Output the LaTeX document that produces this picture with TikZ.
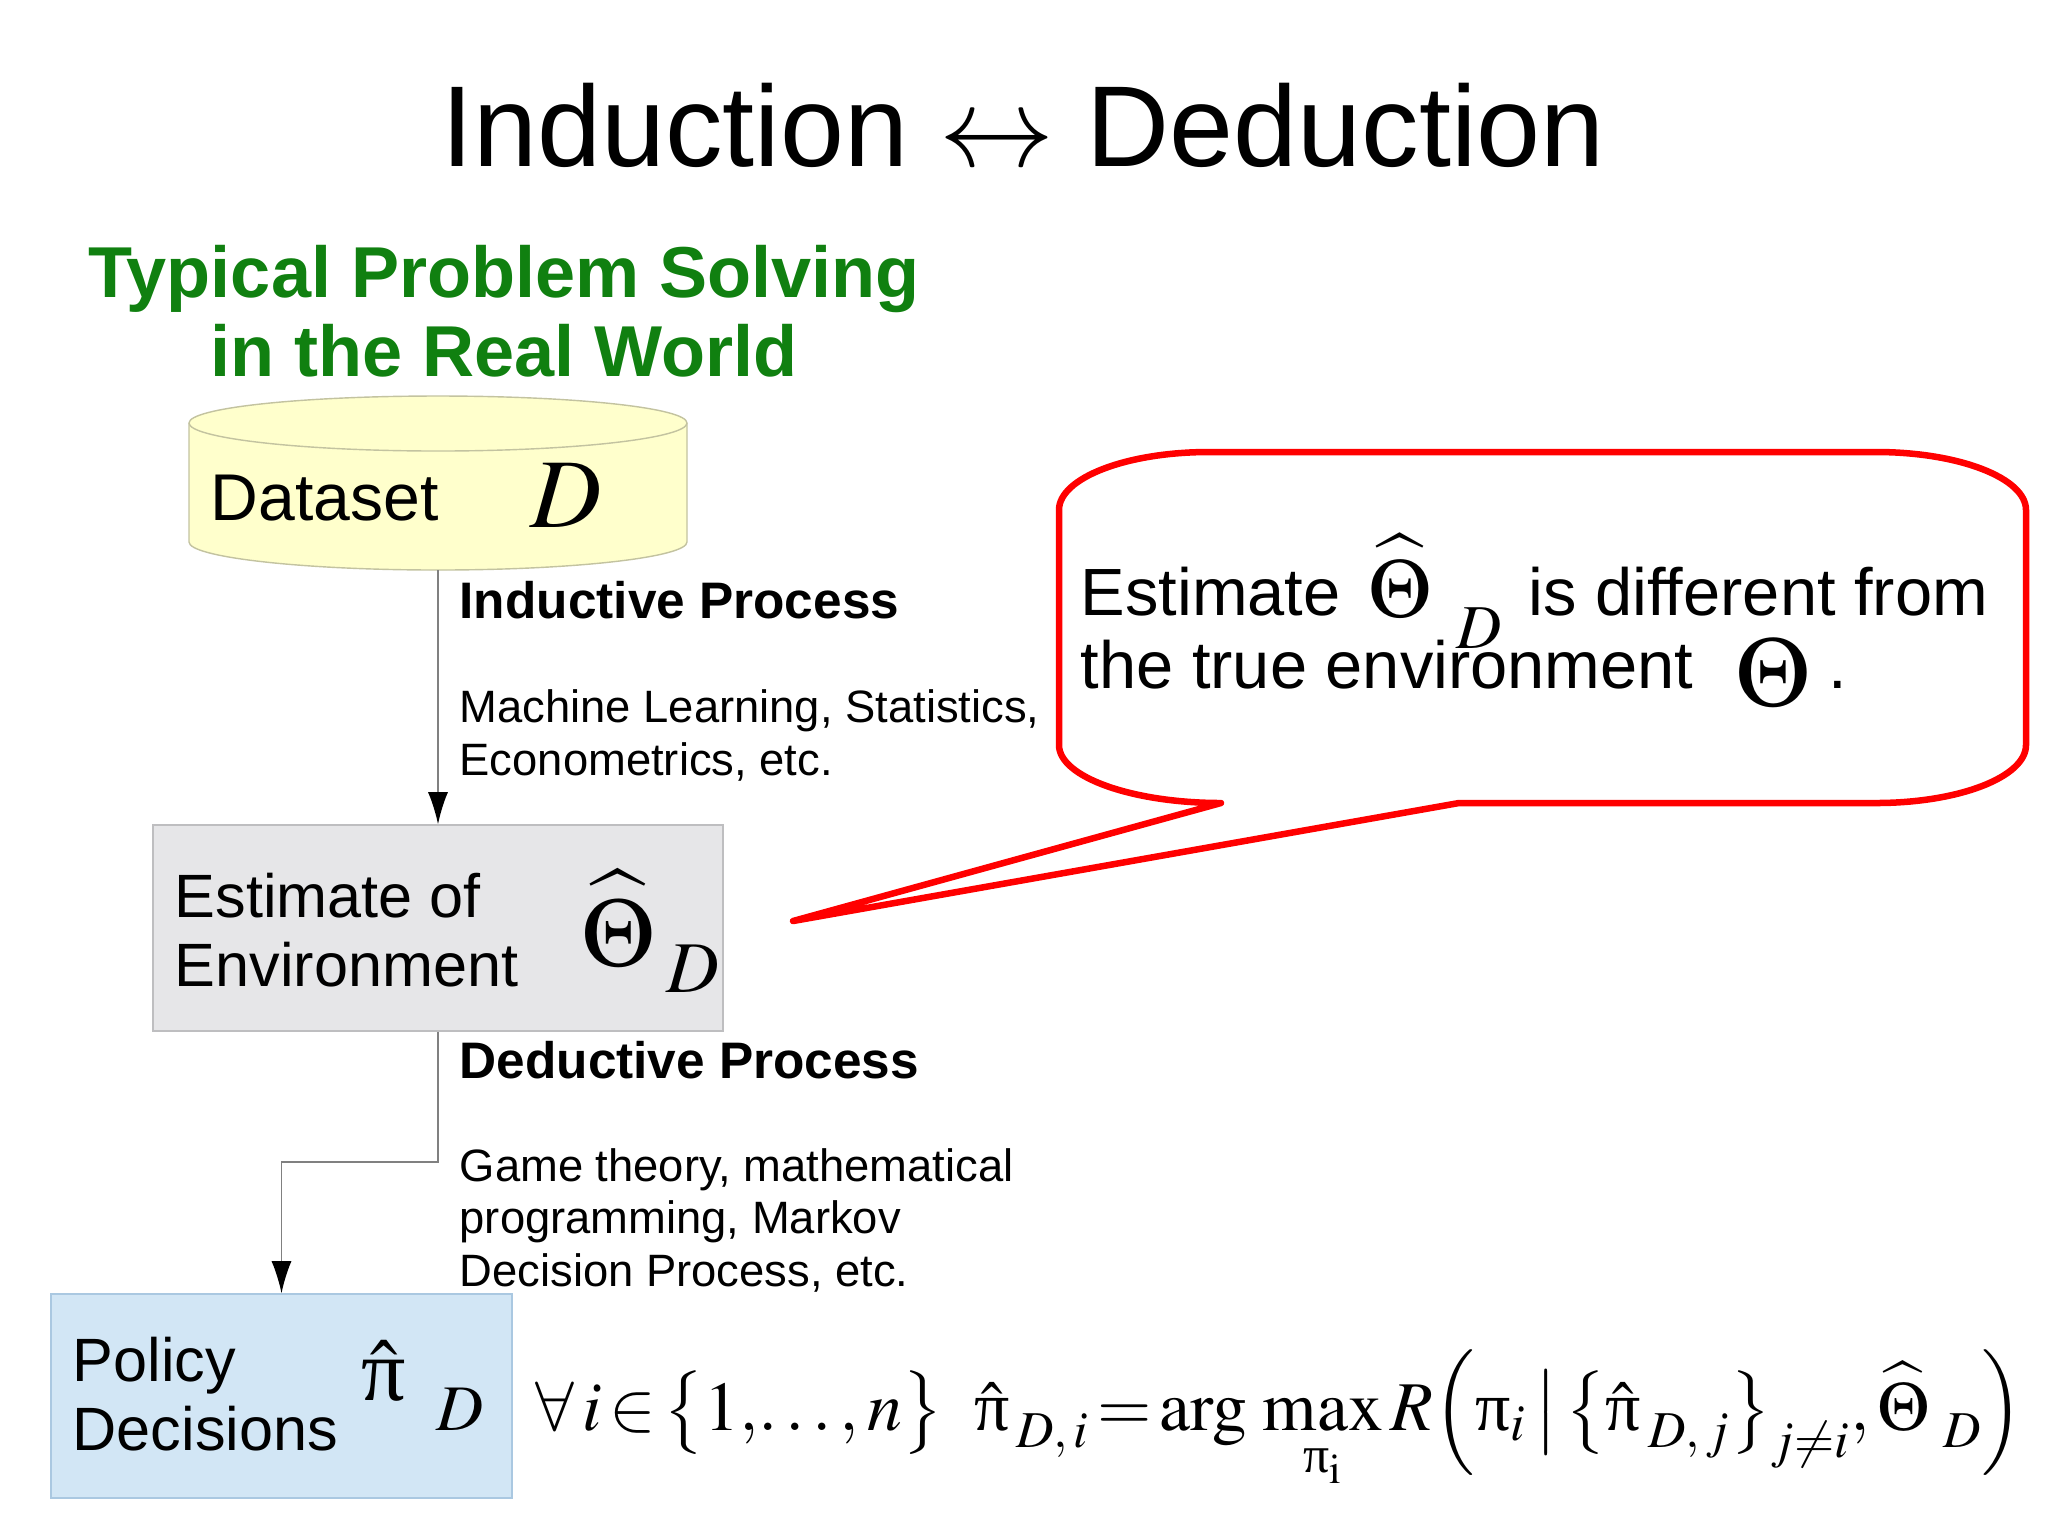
\documentclass[tikz,border=0pt]{standalone}
\usepackage{mathptmx}
\usepackage{amsmath}
\usepackage{graphicx}
\usepackage[no-math]{fontspec}
\setmainfont{Liberation Sans}
\newfontfamily\greekup{Liberation Serif}
\usetikzlibrary{arrows.meta}
\definecolor{titlegreen}{RGB}{16,128,16}
\definecolor{dbyellow}{RGB}{255,255,204}
\definecolor{dbedge}{RGB}{195,195,160}
\definecolor{estgray}{RGB}{230,230,232}
\definecolor{estedge}{RGB}{190,190,192}
\definecolor{polblue}{RGB}{210,230,245}
\definecolor{poledge}{RGB}{170,200,225}
\definecolor{calloutred}{RGB}{255,0,0}
\newcommand{\fsz}[2]{\fontsize{#1}{#2}\selectfont}
\newcommand{\upi}{\text{\greekup π}}
\newcommand{\lsub}[3]{_{\hspace{#1}\raisebox{-#2}{$\scriptstyle #3$}}}
\begin{document}
\begin{tikzpicture}[x=0.01cm,y=-0.01cm,
    conn/.style={draw=black!50,line width=0.45pt,-{Latex[length=0.32cm,width=0.2cm,color=black]}},
    heading/.style={anchor=base west,inner sep=0pt,font=\bfseries\fsz{14.6pt}{17pt}},
    note/.style={anchor=base west,inner sep=0pt,align=left,font=\fsz{12.9pt}{14.8pt}},
    boxtext/.style={anchor=base west,inner sep=0pt,align=left,font=\fsz{17.4pt}{19.5pt}},
    calltext/.style={anchor=base west,inner sep=0pt,font=\fsz{19pt}{21pt}},
    symb/.style={anchor=base west,inner sep=0pt}]
  \useasboundingbox (0,0) rectangle (2048,1535);
  % headings
  \node (title) at (1023,166) [anchor=base,font=\fsz{32.7pt}{38pt}] {Induction $\leftrightarrow$ Deduction};
  \node (sub) at (504,376) [anchor=base,inner sep=0pt,align=center,text=titlegreen,
    font=\bfseries\fsz{20.5pt}{22.2pt}] {Typical Problem Solving\\in the Real World};
  % dataset cylinder
  \draw[dbedge,fill=dbyellow,line width=0.4pt]
    (189,423) -- (189,542) .. controls (189,557) and (300,570) .. (438,570)
    .. controls (576,570) and (687,557) .. (687,542) -- (687,423)
    .. controls (687,408) and (576,396) .. (438,396)
    .. controls (300,396) and (189,408) .. (189,423) -- cycle;
  \draw[dbedge,line width=0.4pt]
    (189,423) .. controls (189,438) and (300,451) .. (438,451)
    .. controls (576,451) and (687,438) .. (687,423);
  \coordinate (data) at (438,570);
  % boxes
  \node (est) at (438,928) [rectangle,minimum width=5.70cm,minimum height=2.06cm,
    fill=estgray,draw=estedge] {};
  \node (pol) at (281.5,1396) [rectangle,minimum width=4.61cm,minimum height=2.04cm,
    fill=polblue,draw=poledge] {};
  \node (dataname) at (210,520) [boxtext,font=\fsz{18.8pt}{21pt}] {Dataset};
  \node (datasym) at (530,527) [symb,font=\fsz{28pt}{32pt}] {$D$};
  \node (estname) at (174,986) [boxtext] {Estimate of\\Environment};
  \node (estsym) at (581,966) [symb,font=\fsz{28pt}{32pt}] {$\widehat{\Theta}\lsub{0.12em}{0.12em}{D}$};
  \node (polname) at (72,1450) [boxtext] {Policy\\Decisions};
  \node (polsym) at (361,1400) [symb,font=\fsz{25pt}{30pt}] {$\hat{\upi}\lsub{0.35em}{0.2em}{D}$};
  % processes
  \coordinate (dbend) at (281.5,1162);
  \draw[conn] (data) -- (est.north);
  \draw[conn] (est.south) |- (dbend) -- (pol.north);
  \node (indhead) at (459,618) [heading] {Inductive Process};
  \node (indnote) at (459,775) [note] {Machine Learning, Statistics,\\Econometrics, etc.};
  \node (dedhead) at (459,1078) [heading] {Deductive Process};
  \node (dednote) at (459,1286) [note] {Game theory, mathematical\\programming, Markov\\Decision Process, etc.};
  % policy rule
  \node (rule) at (535,1430) [symb,font=\fsz{26pt}{30pt}]
    {\resizebox{14.87cm}{!}{$\forall\,i\!\in\!\bigl\{1,\!\ldots,n\bigr\}\;\;\hat{\upi}\lsub{0.1em}{0.1em}{D,\,i}\!=\!\arg\,\max\limits_{\upi_{\mathrm{i}}}R\Bigl(\upi_i\!\bigm|\!\bigl\{\hat{\upi}\lsub{0.1em}{0.1em}{D,\,j}\bigr\}_{j\neq i},\widehat{\Theta}\lsub{0.2em}{0.1em}{D}\Bigr)$}};
  % callout
  \draw[calloutred,line width=1.85pt,line join=round,fill=white]
    (1059,745) -- (1059,510) .. controls (1059,478) and (1126,452) .. (1209,452)
    -- (1876,452) .. controls (1959,452) and (2026,478) .. (2026,510)
    -- (2026,745) .. controls (2026,777) and (1959,803) .. (1876,803)
    -- (1459,803) -- (793,921) -- (1221,803)
    .. controls (1132,803) and (1059,777) .. (1059,745) -- cycle;
  \node (calla) at (1080,615) [calltext] {Estimate};
  \node (callsym) at (1368,617) [symb,font=\fsz{24pt}{28pt}] {$\widehat{\Theta}\lsub{0.3em}{0.22em}{D}$};
  \node (callb) at (1528,615) [calltext] {is different from};
  \node (callc) at (1080,688) [calltext] {the true environment};
  \node (calltheta) at (1735,706) [symb,font=\fsz{28.5pt}{32pt}] {$\Theta$};
  \node (calldot) at (1828,688) [calltext] {.};
\end{tikzpicture}
\end{document}
